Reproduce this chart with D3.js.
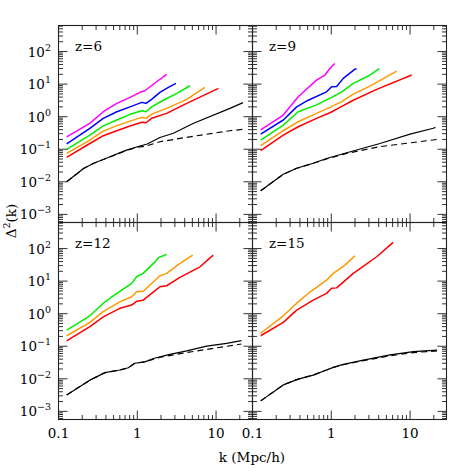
<!DOCTYPE html>
<html><head><meta charset="utf-8">
<script src="https://cdn.jsdelivr.net/npm/d3@7"></script>
<style>body{margin:0;background:#fff}svg{display:block}</style>
</head><body><svg id="c" width="471" height="471"></svg>
<script>
// ---- data (k in h/Mpc, Delta^2) ----
const panelLabels = ["z=6", "z=9", "z=12", "z=15"];
const seriesColors = {magenta:"#ff00ff", blue:"#0000ff", green:"#00ee00", orange:"#ff9900", red:"#ff0000", black:"#000000"};
const xTickLabels = ["0.1", "1", "10"];
const yTickExps = [-3, -2, -1, 0, 1, 2];

const z6_magenta = [[0.127,0.24],[0.25,0.62],[0.37,1.42],[0.55,2.57],[0.81,3.9],[1.08,5.6],[1.25,6.25],[1.45,8.3],[1.76,11.8],[2.36,20]];
const z6_blue    = [[0.127,0.145],[0.25,0.44],[0.37,0.89],[0.55,1.42],[0.81,2.0],[1.14,2.75],[1.29,2.57],[1.52,3.4],[1.94,5.6],[2.48,7.9],[3.1,10.5]];
const z6_green   = [[0.127,0.099],[0.25,0.27],[0.37,0.52],[0.55,0.79],[0.81,1.18],[1.14,1.52],[1.29,1.42],[1.52,2.0],[2.14,3.2],[3.17,5.2],[4.67,8.9]];
const z6_orange  = [[0.127,0.075],[0.25,0.19],[0.37,0.36],[0.55,0.53],[0.81,0.73],[1.14,0.95],[1.29,0.89],[1.52,1.2],[2.36,1.8],[4.24,3.4],[7.2,7.9]];
const z6_red     = [[0.127,0.056],[0.25,0.15],[0.37,0.26],[0.55,0.37],[0.81,0.52],[1.14,0.67],[1.29,0.65],[1.52,0.89],[2.36,1.26],[4.24,2.57],[10.7,7.4]];
const z6_black   = [[0.127,0.010],[0.21,0.026],[0.28,0.037],[0.45,0.059],[0.73,0.094],[1.08,0.126],[1.34,0.145],[1.94,0.23],[2.87,0.31],[5.1,0.62],[15,1.8],[22,2.7]];
const z6_dashed  = [[0.127,0.010],[0.21,0.026],[0.28,0.037],[0.45,0.058],[0.73,0.092],[1.0,0.115],[1.3,0.126],[1.94,0.17],[5.1,0.25],[15,0.37],[22,0.41]];

const z9_magenta = [[0.127,0.39],[0.246,1.12],[0.38,4.1],[0.65,13.3],[0.83,19],[0.96,30],[1.11,43]];
const z9_blue    = [[0.127,0.29],[0.246,0.79],[0.364,2.0],[0.51,3.2],[0.87,5.8],[1.01,8.3],[1.17,8.5],[1.42,15],[2.0,29],[2.1,29]];
const z9_green   = [[0.127,0.19],[0.246,0.55],[0.38,1.42],[0.65,2.3],[1.01,3.9],[1.36,5.8],[1.9,10.5],[2.95,17.7],[4.07,30]];
const z9_orange  = [[0.127,0.128],[0.246,0.37],[0.38,0.70],[0.65,1.26],[0.96,1.93],[1.36,2.9],[1.9,4.9],[3.1,8.7],[6.76,25]];
const z9_red     = [[0.127,0.09],[0.246,0.27],[0.38,0.49],[0.65,0.89],[0.96,1.32],[1.29,1.93],[1.9,3.2],[3.77,6.9],[10.5,19]];
const z9_black   = [[0.127,0.0053],[0.246,0.017],[0.364,0.026],[0.59,0.037],[0.87,0.052],[1.57,0.078],[4.15,0.15],[10,0.29],[19.7,0.44],[21,0.47]];
const z9_dashed  = [[0.127,0.0053],[0.246,0.017],[0.364,0.026],[0.59,0.037],[0.87,0.05],[1.57,0.075],[4.15,0.12],[22,0.20]];

const z12_green  = [[0.127,0.31],[0.25,0.86],[0.37,2.1],[0.55,4.2],[0.85,8.5],[0.98,13.6],[1.19,17.3],[1.68,39],[1.85,52],[2.36,66]];
const z12_orange = [[0.127,0.21],[0.25,0.54],[0.37,1.15],[0.6,2.3],[0.85,3.3],[0.98,4.7],[1.19,4.9],[1.45,7.6],[1.94,14.6],[2.36,17.3],[3.48,35],[5.05,63]];
const z12_red    = [[0.127,0.145],[0.25,0.40],[0.37,0.80],[0.6,1.46],[0.85,1.84],[0.98,2.4],[1.19,2.6],[1.52,4.2],[1.94,6.7],[2.36,7.2],[3.48,13],[6.25,27.5],[9.2,63]];
const z12_black  = [[0.127,0.0032],[0.25,0.0091],[0.39,0.0155],[0.6,0.0186],[0.77,0.0219],[0.93,0.030],[1.25,0.033],[1.6,0.042],[2.6,0.056],[4.24,0.072],[7.6,0.101],[13.6,0.123],[21,0.148]];
const z12_dashed = [[0.127,0.0032],[0.25,0.0091],[0.39,0.0155],[0.6,0.0186],[0.77,0.0219],[0.93,0.030],[1.25,0.033],[1.94,0.046],[4.24,0.064],[7.6,0.080],[21,0.117]];

const z15_orange = [[0.127,0.25],[0.246,0.86],[0.364,2.1],[0.54,4.7],[0.87,10.7],[1.06,17.3],[1.49,31],[2.0,60]];
const z15_red    = [[0.127,0.21],[0.246,0.54],[0.364,1.29],[0.59,2.6],[0.87,4.2],[1.01,6.0],[1.17,6.2],[1.9,17.3],[2.2,22],[3.77,56],[6.1,155]];
const z15_black  = [[0.127,0.0021],[0.246,0.0065],[0.38,0.0098],[0.59,0.013],[0.87,0.0186],[1.06,0.0224],[1.42,0.0277],[2.55,0.0376],[5.56,0.054],[11,0.068],[22,0.076]];
const z15_dashed = [[0.127,0.0021],[0.246,0.0065],[0.38,0.0098],[0.59,0.013],[0.87,0.0186],[1.06,0.0224],[1.42,0.027],[2.55,0.036],[5.56,0.051],[11,0.064],[22,0.072]];

const panels = [
  {label: panelLabels[0], solid: [["magenta",z6_magenta],["blue",z6_blue],["green",z6_green],["orange",z6_orange],["red",z6_red],["black",z6_black]], dashed: z6_dashed},
  {label: panelLabels[1], solid: [["magenta",z9_magenta],["blue",z9_blue],["green",z9_green],["orange",z9_orange],["red",z9_red],["black",z9_black]], dashed: z9_dashed},
  {label: panelLabels[2], solid: [["green",z12_green],["orange",z12_orange],["red",z12_red],["black",z12_black]], dashed: z12_dashed},
  {label: panelLabels[3], solid: [["orange",z15_orange],["red",z15_red],["black",z15_black]], dashed: z15_dashed}
];

// ---- layout ----
const L = 58.5, T = 25.5, W = 194, H = 197;
const FONT = "'DejaVu Serif', 'Liberation Serif', serif";
const FS = 13.5;
const svg = d3.select("#c");
const x = d3.scaleLog().domain([0.1, 29]).range([0, W]);
const y = d3.scaleLog().domain([Math.pow(10,-3.25), Math.pow(10,2.8)]).range([H, 0]);
const line = d3.line().x(d => x(d[0])).y(d => y(d[1]));

const xMajor = [0.1, 1, 10];
const xMinor = [];
[0.1, 1, 10].forEach(b => { for (let m = 2; m <= 9; m++) if (b*m <= 29) xMinor.push(b*m); });
const yMajor = yTickExps.map(e => Math.pow(10, e));
const yMinor = [];
for (let e = -4; e <= 2; e++) for (let m = 2; m <= 9; m++) { const v = m*Math.pow(10,e); if (v >= y.domain()[0] && v <= y.domain()[1]) yMinor.push(v); }
const MAJ = 9, MIN = 4.5;

function txt(sel) { return sel.append("text").style("font-family", FONT).attr("fill", "#000").style("font-weight", "300"); }

panels.forEach((p, i) => {
  const row = Math.floor(i/2), col = i % 2;
  const g = svg.append("g").attr("transform", `translate(${L + col*W},${T + row*H})`);
  const clipId = "clip" + i;
  g.append("clipPath").attr("id", clipId).append("rect").attr("width", W).attr("height", H);
  const plot = g.append("g").attr("clip-path", `url(#${clipId})`);

  p.solid.forEach(([c, data]) => {
    plot.append("path").datum(data).attr("d", line).attr("fill", "none")
      .attr("stroke", seriesColors[c]).attr("stroke-width", c === "black" ? 1.2 : 1.5)
      .attr("stroke-linejoin", "round");
  });
  plot.append("path").datum(p.dashed).attr("d", line).attr("fill", "none")
    .attr("stroke", "#000").attr("stroke-width", 1.2).attr("stroke-dasharray", "6,4");

  // ticks
  const tk = g.append("g").attr("stroke", "#333").attr("stroke-width", 1);
  [[xMajor, MAJ], [xMinor, MIN]].forEach(([vals, len]) => vals.forEach(v => {
    const xv = x(v);
    tk.append("line").attr("x1", xv).attr("x2", xv).attr("y1", H).attr("y2", H - len);
    tk.append("line").attr("x1", xv).attr("x2", xv).attr("y1", 0).attr("y2", len);
  }));
  [[yMajor, MAJ], [yMinor, MIN]].forEach(([vals, len]) => vals.forEach(v => {
    const yv = y(v);
    tk.append("line").attr("x1", 0).attr("x2", len).attr("y1", yv).attr("y2", yv);
    tk.append("line").attr("x1", W).attr("x2", W - len).attr("y1", yv).attr("y2", yv);
  }));
  g.append("rect").attr("width", W).attr("height", H).attr("fill", "none").attr("stroke", "#222").attr("stroke-width", 1.1);

  // panel label
  txt(g).attr("x", 16.5).attr("y", 25.5).attr("font-size", FS).text(p.label);

  // y labels
  if (col === 0) {
    yTickExps.forEach(e => {
      const t = txt(g).attr("x", -7.5).attr("y", y(Math.pow(10, e)) + 5).attr("text-anchor", "end").attr("font-size", FS);
      t.append("tspan").text("10");
      t.append("tspan").attr("dy", -6).attr("font-size", 9.5).text(String(e).replace("-", "\u2212"));
    });
  }
  // x labels
  if (row === 1) {
    xMajor.forEach((v, j) => {
      txt(g).attr("x", x(v)).attr("y", H + 18).attr("text-anchor", "middle").attr("font-size", FS).text(xTickLabels[j]);
    });
  }
});

txt(svg).attr("x", 252).attr("y", 462).attr("text-anchor", "middle").attr("font-size", FS).text("k (Mpc/h)");
const yl = txt(svg).attr("transform", "translate(16,221) rotate(-90)").attr("text-anchor", "middle").attr("font-size", FS);
yl.append("tspan").text("\u0394");
yl.append("tspan").attr("dy", -6).attr("font-size", 9.5).text("2");
yl.append("tspan").attr("dy", 6).text("(k)");
</script></body></html>
